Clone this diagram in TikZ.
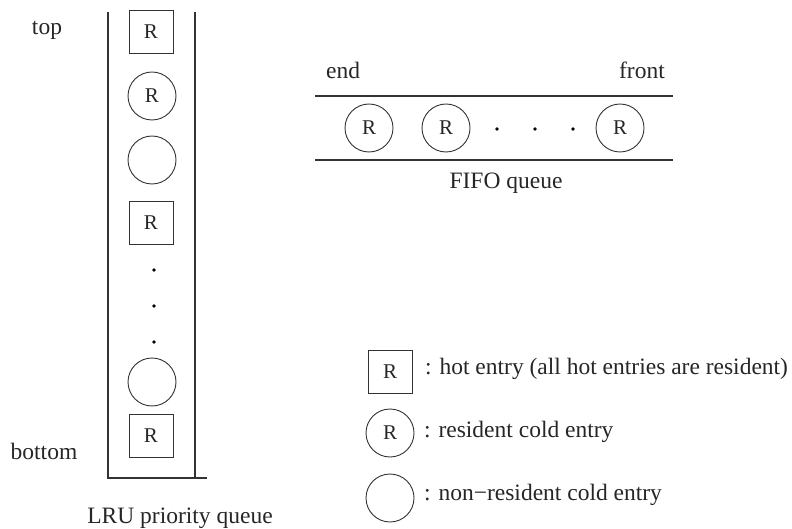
\documentclass[tikz,border=0pt]{standalone}
\usepackage{fontspec}
\setmainfont{Liberation Serif}
\begin{document}
\begin{tikzpicture}[x=1pt,y=-1pt,
  every node/.style={font=\fontsize{21}{25}\selectfont, text=black!85},
  hot/.style={draw=black!80, line width=0.9pt, minimum width=44pt, minimum height=43pt, inner sep=0pt},
  cold/.style={draw=black!80, line width=0.9pt, circle, minimum size=48pt, inner sep=0pt},
  rail/.style={draw=black!80, line width=1.4pt},
  dotmark/.style={fill=black, circle, inner sep=0pt, minimum size=3.6pt},
  lbl/.style={inner sep=0pt, font=\fontsize{23.5}{28}\selectfont}]
\useasboundingbox (0,0) rectangle (792,529);

% LRU priority queue (vertical stack)
\coordinate (lt) at (108,12);
\coordinate (lb) at (108,478);
\coordinate (rt) at (195,12);
\coordinate (rb) at (195,478);
\coordinate (re) at (207,478);
\draw[rail] (lt) -- (lb) -- (re);
\draw[rail] (rt) -- (rb);

\node[hot]  (s1) at (151,32)  {R};
\node[cold] (c1) at (152,96)  {R};
\node[cold] (c2) at (152,160) {};
\node[hot]  (s2) at (151,223) {R};
\node[dotmark] (d1) at (154,270) {};
\node[dotmark] (d2) at (154,306) {};
\node[dotmark] (d3) at (154,342) {};
\node[cold] (c3) at (152,382) {};
\node[hot]  (s3) at (151,436) {R};

\node[lbl, anchor=base] (top) at (47,35) {top};
\node[lbl, anchor=base] (bottom) at (44,459) {bottom};
\node[lbl, anchor=base] (lru) at (180,523) {LRU priority queue};

% FIFO queue (horizontal)
\coordinate (ftl) at (315,96);
\coordinate (ftr) at (673,96);
\coordinate (fbl) at (315,160);
\coordinate (fbr) at (673,160);
\draw[rail] (ftl) -- (ftr);
\draw[rail] (fbl) -- (fbr);

\node[cold] (f1) at (369,128) {R};
\node[cold] (f2) at (446,128) {R};
\node[dotmark] (e1) at (497,129) {};
\node[dotmark] (e2) at (535,129) {};
\node[dotmark] (e3) at (573,129) {};
\node[cold] (f3) at (620,128) {R};

\node[lbl, anchor=base west] (end) at (326,79) {end};
\node[lbl, anchor=base east] (front) at (665,79) {front};
\node[lbl, anchor=base] (fifo) at (506,189) {FIFO queue};

% Legend
\node[hot]  (k1) at (390,372) {R};
\node[cold] (k2) at (390,433) {R};
\node[cold] (k3) at (390,498) {};
\node[lbl, anchor=base west] (t1) at (425,374) {: hot entry (all hot entries are resident)};
\node[lbl, anchor=base west] (t2) at (424,437) {: resident cold entry};
\node[lbl, anchor=base west] (t3) at (424,500) {: non−resident cold entry};
\end{tikzpicture}
\end{document}
